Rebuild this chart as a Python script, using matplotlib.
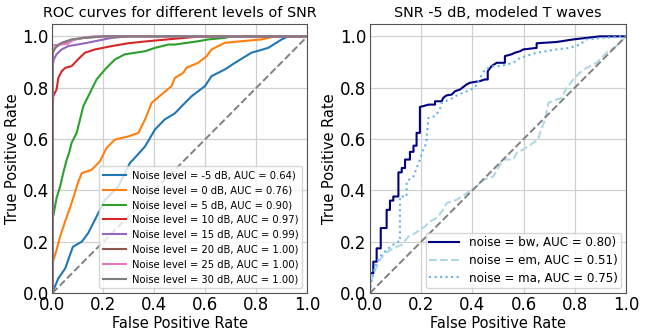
import matplotlib
matplotlib.use("Agg")
import matplotlib.pyplot as plt

# ---------------- data: left panel (ROC for SNR levels) ----------------
snr_levels = [-5, 0, 5, 10, 15, 20, 25, 30]
snr_auc = [0.64, 0.76, 0.90, 0.97, 0.99, 1.00, 1.00, 1.00]

fpr_m5 = [0.0, 0.003, 0.023, 0.05, 0.08, 0.115, 0.14, 0.173, 0.206, 0.258, 0.304, 0.317,
          0.363, 0.402, 0.44, 0.48, 0.507, 0.546, 0.598, 0.624, 0.676, 0.716, 0.78, 0.846,
          0.899, 0.925, 1.0]
tpr_m5 = [0.0, 0.01, 0.057, 0.096, 0.18, 0.20, 0.233, 0.298, 0.363, 0.415, 0.507, 0.52,
          0.571, 0.637, 0.676, 0.70, 0.728, 0.767, 0.806, 0.845, 0.871, 0.897, 0.936, 0.955,
          0.988, 1.0, 1.0]

fpr_0 = [0.0, 0.0, 0.003, 0.016, 0.03, 0.05, 0.075, 0.1, 0.115, 0.154, 0.186, 0.212,
         0.245, 0.297, 0.337, 0.363, 0.389, 0.42, 0.467, 0.48, 0.513, 0.526, 0.572, 0.605,
         0.624, 0.676, 0.742, 0.82, 0.873, 1.0]
tpr_0 = [0.0, 0.122, 0.125, 0.168, 0.22, 0.28, 0.35, 0.43, 0.467, 0.48, 0.513, 0.565,
         0.598, 0.61, 0.624, 0.676, 0.741, 0.767, 0.806, 0.838, 0.858, 0.878, 0.897, 0.923,
         0.949, 0.975, 0.981, 0.988, 1.0, 1.0]

fpr_5 = [0.0, 0.0, 0.003, 0.016, 0.03, 0.042, 0.056, 0.065, 0.075, 0.095, 0.108, 0.121,
         0.147, 0.173, 0.206, 0.245, 0.284, 0.363, 0.402, 0.454, 0.48, 0.572, 0.611, 0.676,
         0.70, 1.0]
tpr_5 = [0.0, 0.298, 0.30, 0.37, 0.415, 0.467, 0.52, 0.545, 0.585, 0.624, 0.676, 0.728,
         0.78, 0.832, 0.871, 0.91, 0.93, 0.942, 0.955, 0.968, 0.968, 0.981, 0.988, 0.994,
         1.0, 1.0]

fpr_10 = [0.0, 0.0, 0.003, 0.016, 0.023, 0.036, 0.05, 0.075, 0.1, 0.127, 0.167, 0.232,
          0.297, 0.363, 0.45, 0.585, 1.0]
tpr_10 = [0.0, 0.702, 0.767, 0.793, 0.838, 0.864, 0.877, 0.884, 0.91, 0.936, 0.949, 0.962,
          0.973, 0.98, 0.988, 1.0, 1.0]

fpr_15 = [0.0, 0.0, 0.005, 0.016, 0.036, 0.062, 0.127, 0.167, 0.232, 0.30, 1.0]
tpr_15 = [0.0, 0.877, 0.91, 0.93, 0.949, 0.962, 0.973, 0.981, 0.994, 1.0, 1.0]

fpr_20 = [0.0, 0.0, 0.01, 0.03, 0.07, 0.12, 0.20, 1.0]
tpr_20 = [0.0, 0.935, 0.955, 0.97, 0.985, 0.994, 1.0, 1.0]

fpr_25 = [0.0, 0.0, 0.06, 0.08, 0.12, 0.16, 1.0]
tpr_25 = [0.0, 0.965, 0.971, 0.985, 0.995, 1.0, 1.0]

fpr_30 = [0.0, 0.0, 0.005, 0.016, 0.036, 0.075, 0.127, 0.20, 1.0]
tpr_30 = [0.0, 0.93, 0.945, 0.962, 0.975, 0.988, 0.994, 1.0, 1.0]

snr_fpr = [fpr_m5, fpr_0, fpr_5, fpr_10, fpr_15, fpr_20, fpr_25, fpr_30]
snr_tpr = [tpr_m5, tpr_0, tpr_5, tpr_10, tpr_15, tpr_20, tpr_25, tpr_30]

# ---------------- data: right panel (SNR -5 dB, modeled T waves) ----------------
noise_types = ["bw", "em", "ma"]
noise_auc = [0.80, 0.51, 0.75]

fpr_bw = [0.0, 0.0, 0.013, 0.013, 0.026, 0.026, 0.042, 0.042, 0.065, 0.065, 0.078, 0.078,
          0.091, 0.091, 0.111, 0.111, 0.124, 0.124, 0.137, 0.137, 0.156, 0.156, 0.17, 0.17,
          0.182, 0.182, 0.195, 0.195, 0.208, 0.228, 0.254, 0.254, 0.28, 0.286, 0.299, 0.319,
          0.332, 0.352, 0.378, 0.39, 0.43, 0.449, 0.46, 0.46, 0.475, 0.495, 0.527, 0.527,
          0.553, 0.566, 0.586, 0.599, 0.651, 0.651, 0.729, 0.794, 0.846, 0.898, 1.0]
tpr_bw = [0.0, 0.077, 0.077, 0.122, 0.122, 0.174, 0.174, 0.253, 0.253, 0.324, 0.324, 0.36,
          0.36, 0.376, 0.376, 0.47, 0.47, 0.487, 0.487, 0.52, 0.52, 0.55, 0.55, 0.574,
          0.574, 0.624, 0.624, 0.725, 0.728, 0.734, 0.734, 0.747, 0.747, 0.76, 0.77, 0.773,
          0.786, 0.793, 0.813, 0.819, 0.826, 0.832, 0.832, 0.864, 0.884, 0.897, 0.897, 0.923,
          0.93, 0.936, 0.942, 0.949, 0.955, 0.973, 0.978, 0.988, 0.994, 1.0, 1.0]

fpr_em = [0.0, 0.004, 0.02, 0.039, 0.059, 0.091, 0.124, 0.15, 0.176, 0.215, 0.234, 0.26,
          0.286, 0.299, 0.338, 0.378, 0.41, 0.443, 0.482, 0.508, 0.521, 0.56, 0.573, 0.586,
          0.599, 0.638, 0.657, 0.664, 0.684, 0.697, 0.729, 0.749, 0.768, 0.794, 0.82, 0.846,
          0.885, 0.924, 0.963, 1.0]
tpr_em = [0.0, 0.044, 0.09, 0.129, 0.155, 0.174, 0.188, 0.22, 0.233, 0.259, 0.279, 0.292,
          0.324, 0.35, 0.363, 0.389, 0.409, 0.441, 0.454, 0.50, 0.52, 0.52, 0.546, 0.553,
          0.559, 0.585, 0.598, 0.624, 0.676, 0.741, 0.754, 0.76, 0.80, 0.832, 0.858, 0.877,
          0.897, 0.936, 0.962, 1.0]

fpr_ma = [0.0, 0.004, 0.02, 0.039, 0.065, 0.091, 0.111, 0.117, 0.117, 0.143, 0.143, 0.17,
          0.195, 0.208, 0.215, 0.221, 0.228, 0.254, 0.273, 0.28, 0.3125, 0.345, 0.378, 0.41,
          0.423, 0.449, 0.482, 0.508, 0.56, 0.586, 0.651, 0.729, 0.781, 0.82, 0.846, 0.911,
          1.0]
tpr_ma = [0.0, 0.038, 0.103, 0.142, 0.168, 0.188, 0.20, 0.20, 0.376, 0.376, 0.435, 0.454,
          0.52, 0.559, 0.571, 0.598, 0.682, 0.689, 0.715, 0.741, 0.754, 0.773, 0.786, 0.80,
          0.826, 0.871, 0.884, 0.884, 0.897, 0.916, 0.936, 0.949, 0.955, 0.968, 0.988, 0.994,
          1.0]

noise_fpr = [fpr_bw, fpr_em, fpr_ma]
noise_tpr = [tpr_bw, tpr_em, tpr_ma]
noise_colors = ["navy", "lightblue", "#63b3e6"]
noise_styles = ["-", "--", ":"]

# ---------------- plotting ----------------
plt.rcParams["font.family"] = ["DejaVu Sans"]
fig = plt.figure(figsize=(6.71, 3.33), dpi=100)
ax1 = fig.add_axes([0.0782, 0.1201, 0.380, 0.8093])
ax2 = fig.add_axes([0.5514, 0.1201, 0.3815, 0.8093])

tab = plt.rcParams["axes.prop_cycle"].by_key()["color"]
for i, (snr, auc) in enumerate(zip(snr_levels, snr_auc)):
    ax1.plot(snr_fpr[i], snr_tpr[i], color=tab[i], lw=1.5,
             label=f"Noise level = {snr} dB, AUC = {auc:.2f})")
ax1.plot([0, 1], [0, 1], color="gray", ls="--", lw=1.4)
ax1.set_title("ROC curves for different levels of SNR", fontsize=10.4, pad=5)
ax1.legend(loc="lower right", fontsize=7.2, handlelength=2.3, labelspacing=0.48,
           borderpad=0.4, framealpha=0.8, handletextpad=0.6)

for i, (nt, auc) in enumerate(zip(noise_types, noise_auc)):
    ax2.plot(noise_fpr[i], noise_tpr[i], color=noise_colors[i], ls=noise_styles[i],
             lw=1.5, label=f"noise = {nt}, AUC = {auc:.2f})")
ax2.plot([0, 1], [0, 1], color="gray", ls="--", lw=1.4)
ax2.set_title("SNR -5 dB, modeled T waves", fontsize=10.4, pad=5)
ax2.legend(loc="lower right", fontsize=8.6, handlelength=2.5, labelspacing=0.4,
           borderpad=0.3, framealpha=0.8, borderaxespad=0.4)

for ax in (ax1, ax2):
    ax.set_xlim(0, 1.0)
    ax.set_ylim(0, 1.05)
    ax.set_xticks([0, 0.2, 0.4, 0.6, 0.8, 1.0])
    ax.set_yticks([0, 0.2, 0.4, 0.6, 0.8, 1.0])
    ax.tick_params(labelsize=12, length=0, pad=2.5)
    ax.grid(True, color="#d0d0d0", lw=0.9)
    ax.set_axisbelow(True)
    for s in ax.spines.values():
        s.set_color("#555555")
    ax.set_xlabel("False Positive Rate", fontsize=10.5, labelpad=1)
    ax.set_ylabel("True Positive Rate", fontsize=10.5, labelpad=2)

fig.savefig("out.png", dpi=100)
